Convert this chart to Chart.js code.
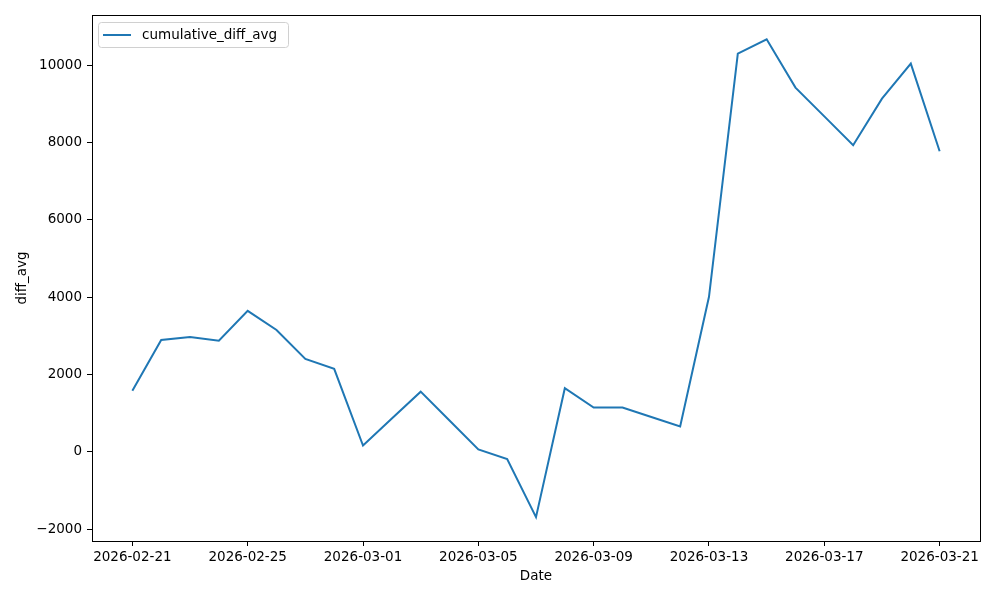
<!DOCTYPE html>
<html>
<head>
<meta charset="utf-8">
<script src="https://cdn.jsdelivr.net/npm/chart.js@4"></script>
<style>
  body { margin: 0; background: #fff; }
  canvas { display: block; }
</style>
</head>
<body>
<canvas id="chart" width="1000" height="600"></canvas>
<script>
// daily values, 2026-02-21 .. 2026-03-21
const dates = [
  "2026-02-21", "2026-02-22", "2026-02-23", "2026-02-24", "2026-02-25",
  "2026-02-26", "2026-02-27", "2026-02-28", "2026-03-01", "2026-03-02",
  "2026-03-03", "2026-03-04", "2026-03-05", "2026-03-06", "2026-03-07",
  "2026-03-08", "2026-03-09", "2026-03-10", "2026-03-11", "2026-03-12",
  "2026-03-13", "2026-03-14", "2026-03-15", "2026-03-16", "2026-03-17",
  "2026-03-18", "2026-03-19", "2026-03-20", "2026-03-21"
];
const cumulativeDiffAvg = [
  1580, 2890, 2970, 2875, 3645,
  3150, 2400, 2145, 160, 860,
  1555, 810, 60, -190, -1690,
  1645, 1145, 1145, 900, 655,
  4010, 10300, 10670, 9420, 8675,
  7930, 9135, 10040, 7775
];
const xTickIdx = [0, 4, 8, 12, 16, 20, 24, 28];
const yTicks = [-2000, 0, 2000, 4000, 6000, 8000, 10000];
const seriesLabel = "cumulative_diff_avg";

const lineColor = "#1f77b4";
const fontFamily = "'DejaVu Sans', sans-serif";
const fontSize = 13.5;

// frame around plot + legend box inside the top-left corner
const framePlugin = {
  id: "frame",
  afterDraw(chart) {
    const ctx = chart.ctx;
    const a = chart.chartArea;
    ctx.save();
    ctx.strokeStyle = "#000";
    ctx.lineWidth = 1;
    ctx.strokeRect(a.left + 0.5, a.top + 0.5, a.right - a.left, a.bottom - a.top);

    // legend
    const bx = a.left + 6, by = a.top + 7, bw = 190, bh = 25;
    ctx.fillStyle = "rgba(255,255,255,0.8)";
    ctx.strokeStyle = "#d0d0d0";
    ctx.beginPath();
    ctx.roundRect(bx + 0.5, by + 0.5, bw, bh, 3);
    ctx.fill();
    ctx.stroke();
    ctx.strokeStyle = lineColor;
    ctx.lineWidth = 2;
    ctx.beginPath();
    ctx.moveTo(bx + 5, by + 13);
    ctx.lineTo(bx + 33, by + 13);
    ctx.stroke();
    ctx.fillStyle = "#000";
    ctx.font = fontSize + "px " + fontFamily;
    ctx.textBaseline = "middle";
    ctx.fillText(seriesLabel, bx + 44, by + 13);
    ctx.restore();
  }
};

new Chart(document.getElementById("chart"), {
  type: "line",
  data: {
    datasets: [{
      label: seriesLabel,
      data: cumulativeDiffAvg.map((v, i) => ({ x: i, y: v })),
      borderColor: lineColor,
      borderWidth: 2,
      pointRadius: 0,
      tension: 0,
      fill: false
    }]
  },
  options: {
    responsive: false,
    animation: false,
    layout: { padding: { top: 15, right: 20, left: 0, bottom: 0 } },
    plugins: {
      legend: { display: false },
      tooltip: { enabled: false }
    },
    scales: {
      x: {
        type: "linear",
        min: -1.4,
        max: 29.4,
        afterBuildTicks: (s) => { s.ticks = xTickIdx.map((v) => ({ value: v })); },
        afterFit: (s) => { s.height = 59; },
        ticks: {
          autoSkip: false,
          maxRotation: 0,
          color: "#000",
          padding: 3,
          font: { family: fontFamily, size: fontSize },
          callback: (v) => dates[v]
        },
        grid: { drawOnChartArea: false, drawTicks: true, tickLength: 5, color: "#000" },
        border: { display: false },
        title: {
          display: true,
          text: "Date",
          color: "#000",
          font: { family: fontFamily, size: fontSize },
          padding: { top: 0, bottom: 15 }
        }
      },
      y: {
        min: -2308,
        max: 11298,
        afterBuildTicks: (s) => { s.ticks = yTicks.map((v) => ({ value: v })); },
        afterFit: (s) => { s.width = 92; },
        ticks: {
          color: "#000",
          padding: 5,
          font: { family: fontFamily, size: fontSize },
          callback: (v) => String(v).replace("-", "\u2212")
        },
        grid: { drawOnChartArea: false, drawTicks: true, tickLength: 5, color: "#000" },
        border: { display: false },
        title: {
          display: true,
          text: "diff_avg",
          color: "#000",
          font: { family: fontFamily, size: fontSize },
          padding: { top: 14, bottom: 0 }
        }
      }
    }
  },
  plugins: [framePlugin]
});
</script>
</body>
</html>
